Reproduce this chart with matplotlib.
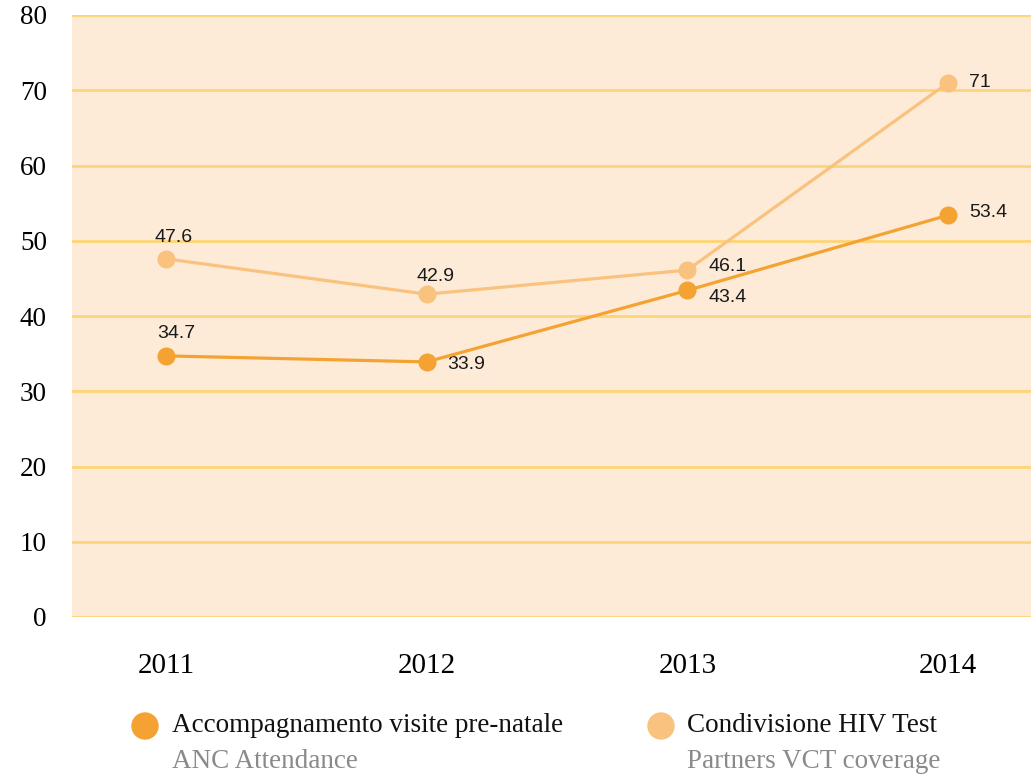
import matplotlib
matplotlib.use("Agg")
import matplotlib.pyplot as plt

years = ["2011", "2012", "2013", "2014"]
anc_attendance = [34.7, 33.9, 43.4, 53.4]
vct_coverage = [47.6, 42.9, 46.1, 71]
y_ticks = [0, 10, 20, 30, 40, 50, 60, 70, 80]

series_names = [("Accompagnamento visite pre-natale", "ANC Attendance"),
                ("Condivisione HIV Test", "Partners VCT coverage")]

DARK = "#F4A231"
LIGHT = "#F9C27E"
BG = "#FDEBD8"
GRID = "#FDD576"

W, H = 1031, 776
fig = plt.figure(figsize=(W / 100, H / 100), dpi=100)
ax = fig.add_axes([72 / W, 1 - 617 / H, 1 - 72 / W, (617 - 15) / H])
ax.set_facecolor(BG)
for s in ax.spines.values():
    s.set_visible(False)

x = list(range(len(years)))
ax.set_xlim(-0.36, 3.318)
ax.set_ylim(0, 80)
ax.set_yticks(y_ticks)
ax.set_yticklabels([str(v) for v in y_ticks], family="Liberation Serif", fontsize=19.5)
ax.tick_params(axis="y", length=0, pad=18)
ax.set_xticks(x)
ax.set_xticklabels(years, family="Liberation Serif", fontsize=21)
ax.tick_params(axis="x", length=0, pad=26)
ax.yaxis.grid(True, color=GRID, linewidth=2.0)
ax.set_axisbelow(True)
ax.xaxis.grid(False)

ax.plot(x, vct_coverage, color=LIGHT, linewidth=2.3, marker="o", markersize=13,
        markeredgewidth=0, zorder=3, clip_on=False)
ax.plot(x, anc_attendance, color=DARK, linewidth=2.3, marker="o", markersize=13,
        markeredgewidth=0, zorder=4, clip_on=False)

# label offsets in pixels (dx, dy) and alignment
light_offsets = [(8, 21, "center"), (9, 18, "center"), (21, 4, "left"), (21, 0, "left")]
dark_offsets = [(10, 22, "center"), (21, -3, "left"), (21, -7, "left"), (21, 3, "left")]

def fmt(v):
    return f"{v:g}"

for xi, v, (dx, dy, ha) in zip(x, vct_coverage, light_offsets):
    ax.annotate(fmt(v), (xi, v), xytext=(dx * 0.72, dy * 0.72), textcoords="offset points",
                ha=ha, va="center", family="Liberation Sans", fontsize=14, color="#1a1a1a")
for xi, v, (dx, dy, ha) in zip(x, anc_attendance, dark_offsets):
    ax.annotate(fmt(v), (xi, v), xytext=(dx * 0.72, dy * 0.72), textcoords="offset points",
                ha=ha, va="center", family="Liberation Sans", fontsize=14, color="#1a1a1a")

# legend
leg_items = [(145, 172, DARK), (661, 687, LIGHT)]
for (cx, tx, col), (main, sub) in zip(leg_items, series_names):
    fig.patches.append(matplotlib.patches.Ellipse((cx / W, 1 - 726 / H), 26 / W, 26 / H,
                                                  transform=fig.transFigure, color=col))
    fig.text(tx / W, 1 - 726 / H, main, family="Liberation Serif", fontsize=19.5,
             color="#111111", va="center", ha="left")
    fig.text(tx / W, 1 - 761 / H, sub, family="Liberation Serif", fontsize=19.5,
             color="#8a8a8a", va="center", ha="left")

fig.savefig("out.png", dpi=100, facecolor="white")
